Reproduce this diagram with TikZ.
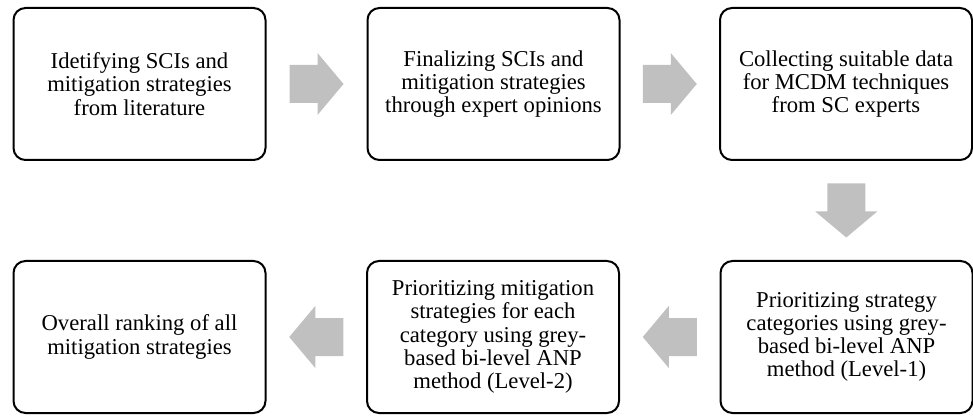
\documentclass[tikz,border=0pt]{standalone}
\usepackage{fontspec}
\setmainfont{Liberation Serif}
\usetikzlibrary{calc}
\definecolor{arrowgrey}{RGB}{191,192,191}
\tikzset{
  stepbox/.style={draw=black, line width=1.5pt, rounded corners=9pt,
    minimum width=252*0.75pt, minimum height=152*0.75pt, inner sep=0pt,
    align=center, font=\fontsize{17}{17.4}\selectfont},
  blockarrow/.style={fill=arrowgrey, draw=none}
}
% block arrow pointing along +x, centred on the origin of the current frame
\newcommand{\blockarrowpath}{(-27,-19) -- (1,-19) -- (1,-31) -- (27,0) -- (1,31) -- (1,19) -- (-27,19) -- cycle}
\begin{document}
\begin{tikzpicture}[x=0.75pt,y=-0.75pt]
  \useasboundingbox (0,0) rectangle (973,416);
  % top row, left to right
  \node[stepbox] (s1) at (139.5,84) {Idetifying SCIs and\\mitigation strategies\\from literature};
  \node[stepbox] (s2) at (493.5,84) {Finalizing SCIs and\\mitigation strategies\\through expert opinions};
  \node[stepbox] (s3) at (846,84) {Collecting suitable data\\for MCDM techniques\\from SC experts};
  % bottom row, right to left
  \node[stepbox] (s6) at (846.5,337) {Prioritizing strategy\\categories using grey-\\based bi-level ANP\\method (Level-1)};
  \node[stepbox] (s5) at (493,337) {Prioritizing mitigation\\strategies for each\\category using grey-\\based bi-level ANP\\method (Level-2)};
  \node[stepbox] (s4) at (139.5,337) {Overall ranking of all\\mitigation strategies};
  % midpoints of the gaps between consecutive steps
  \coordinate (m12) at ($(s1.east)!0.5!(s2.west)$);
  \coordinate (m23) at ($(s2.east)!0.5!(s3.west)$);
  \coordinate (m36) at ($(s3.south)!0.5!(s6.north)$);
  \coordinate (m65) at ($(s6.west)!0.5!(s5.east)$);
  \coordinate (m54) at ($(s5.west)!0.5!(s4.east)$);
  % block arrows between the steps
  \fill[blockarrow, shift={(m12)}] \blockarrowpath;
  \fill[blockarrow, shift={(m23)}] \blockarrowpath;
  \fill[blockarrow, shift={(m36)}, rotate=-90] \blockarrowpath;
  \fill[blockarrow, shift={(m65)}, rotate=180] \blockarrowpath;
  \fill[blockarrow, shift={(m54)}, rotate=180] \blockarrowpath;
\end{tikzpicture}
\end{document}
